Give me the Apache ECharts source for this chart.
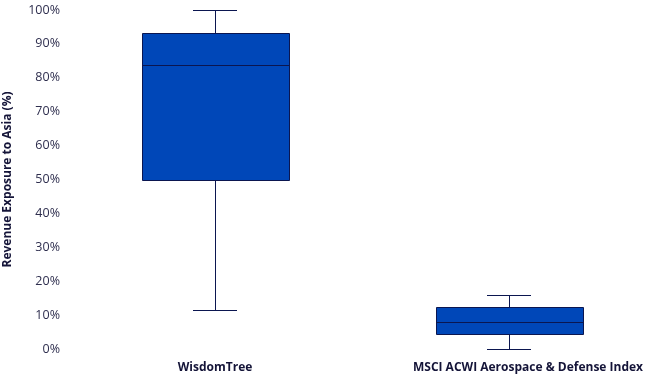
<!DOCTYPE html>
<html>
<head>
<meta charset="utf-8">
<script src="https://cdn.jsdelivr.net/npm/echarts@6/dist/echarts.min.js"></script>
<style>html,body{margin:0;padding:0;background:#fff;}#c{width:651px;height:379px;}</style>
</head>
<body>
<div id="c"></div>
<script>
var categories = ['WisdomTree', 'MSCI ACWI Aerospace & Defense Index'];
var minValues = [11.5, 0];
var q1Values = [49.9, 4.4];
var medianValues = [83.8, 7.9];
var q3Values = [93.2, 12.3];
var maxValues = [100, 15.9];
var yTicks = [0, 10, 20, 30, 40, 50, 60, 70, 80, 90, 100];

var data = categories.map(function (c, i) {
  return [i, minValues[i], q1Values[i], medianValues[i], q3Values[i], maxValues[i]];
});

var chart = echarts.init(document.getElementById('c'), null, {renderer: 'canvas'});
var FONT = '"Open Sans", "Noto Sans", sans-serif';
var stroke = '#0b1650';
function px(v) { return Math.round(v) + 0.5; }
var labelStyle = {color: '#141438', fontWeight: 'bold', fontSize: 12, fontFamily: FONT};
chart.setOption({
  animation: false,
  grid: {left: 68, right: -5, top: 10, bottom: 30, outerBoundsMode: 'none', containLabel: false},
  xAxis: {
    type: 'category',
    data: categories,
    axisLine: {show: false},
    axisTick: {show: false},
    axisLabel: {
      color: '#141438', fontWeight: 'bold', fontSize: 12, fontFamily: FONT, margin: 13, interval: 0, hideOverlap: false,
      formatter: function (v, i) { return i === 1 ? '{s|' + v + '}' : '{n|' + v + '}'; },
      rich: {
        n: labelStyle,
        s: Object.assign({padding: [0, 0, 0, 38]}, labelStyle)
      }
    }
  },
  yAxis: {
    type: 'value',
    min: yTicks[0],
    max: yTicks[yTicks.length - 1],
    interval: 10,
    name: 'Revenue Exposure to Asia (%)',
    nameLocation: 'middle',
    nameGap: 54,
    nameTextStyle: {color: '#141438', fontWeight: 'bold', fontSize: 12, fontFamily: FONT},
    axisLine: {show: false},
    axisTick: {show: false},
    splitLine: {show: false},
    axisLabel: {color: '#2e2e4e', fontSize: 12.5, fontFamily: FONT, formatter: '{value}%', margin: 8}
  },
  series: [{
    type: 'custom',
    data: data,
    encode: {x: 0, y: [1, 2, 3, 4, 5]},
    renderItem: function (params, api) {
      var idx = api.value(0);
      var band = api.size([1, 0])[0];
      var bw = band * 0.5;
      var cw = band * 0.153;
      var pMin = api.coord([idx, api.value(1)]);
      var pQ1 = api.coord([idx, api.value(2)]);
      var pMed = api.coord([idx, api.value(3)]);
      var pQ3 = api.coord([idx, api.value(4)]);
      var pMax = api.coord([idx, api.value(5)]);
      var x = px(pMed[0]);
      var yMin = px(pMin[1]), yQ1 = px(pQ1[1]), yMed = px(pMed[1]), yQ3 = px(pQ3[1]), yMax = px(pMax[1]);
      var xl = px(pMed[0] - bw / 2), xr = px(pMed[0] + bw / 2);
      var cl = Math.round(pMed[0] - cw / 2), cr = Math.round(pMed[0] + cw / 2);
      var ls = {stroke: stroke, lineWidth: 1};
      return {
        type: 'group',
        children: [
          {type: 'line', shape: {x1: x, y1: yMin, x2: x, y2: yQ1}, style: ls},
          {type: 'line', shape: {x1: x, y1: yQ3, x2: x, y2: yMax}, style: ls},
          {type: 'line', shape: {x1: cl, y1: yMin, x2: cr, y2: yMin}, style: ls},
          {type: 'line', shape: {x1: cl, y1: yMax, x2: cr, y2: yMax}, style: ls},
          {type: 'rect', shape: {x: xl, y: yQ3, width: xr - xl, height: yQ1 - yQ3}, style: {fill: '#0047b8', stroke: stroke, lineWidth: 1}},
          {type: 'line', shape: {x1: xl, y1: yMed, x2: xr, y2: yMed}, style: ls}
        ]
      };
    }
  }]
});
</script>
</body>
</html>
